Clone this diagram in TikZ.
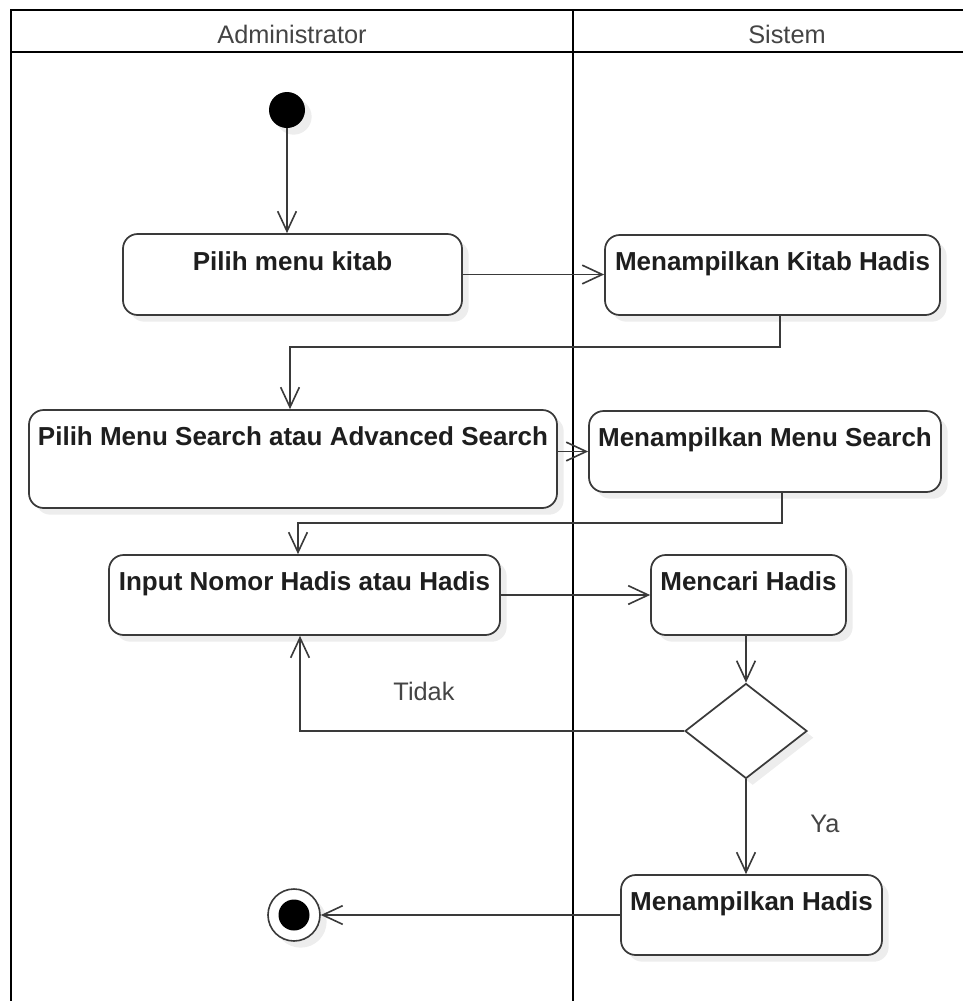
\documentclass[tikz,border=0pt]{standalone}
\usepackage{fontspec}
\setmainfont{Liberation Sans}
\usetikzlibrary{arrows.meta,shapes.geometric,shadows,calc}
\definecolor{ink}{HTML}{3A3A3A}
\definecolor{txt}{HTML}{1E1E1E}
\definecolor{lbl}{HTML}{444444}
\def\pxu{0.75pt}
\begin{document}
\begin{tikzpicture}[x=0.75pt,y=-0.75pt,
  frame/.style={line width=2.2pt,black},
  soft/.style={drop shadow={shadow xshift=5pt,shadow yshift=-5pt,fill=black,opacity=0.07}},
  act/.style={draw=ink,line width=1.3pt,fill=white,rounded corners=11pt,inner sep=0pt,soft},
  acttext/.style={anchor=base,text=txt,font=\fontsize{19.5}{22}\selectfont\bfseries},
  lane/.style={anchor=base,text=lbl,font=\fontsize{19}{22}\selectfont},
  flow/.style={draw=ink,line width=1.2pt,-{Straight Barb[length=15pt,width=14pt,line width=1.2pt]}},
  ]
\useasboundingbox (0,0) rectangle (963,1001);
\fill[white] (0,0) rectangle (963,1001);

% swimlane frame
\draw[frame] (11,1001) -- (11,10) -- (963,10);
\draw[frame] (11,52) -- (963,52);
\draw[frame] (573,10) -- (573,1001);
\node[lane] (laneA) at (292,43) {Administrator};
\node[lane] (laneS) at (787,43) {Sistem};

% initial node
\node[circle,fill=black,minimum size=36*\pxu,inner sep=0pt,soft] (start) at (287,110) {};

% activities
\node[act,minimum width=339*\pxu,minimum height=81*\pxu] (b1) at (292.5,274.5) {};
\node[acttext] (b1t) at (292.5,270) {Pilih menu kitab};
\node[act,minimum width=335*\pxu,minimum height=80*\pxu] (b2) at (772.5,275) {};
\node[acttext] (b2t) at (772.5,270) {Menampilkan Kitab Hadis};
\node[act,minimum width=528*\pxu,minimum height=98*\pxu] (b3) at (293,459) {};
\node[acttext] (b3t) at (293,445) {Pilih Menu Search atau Advanced Search};
\node[act,minimum width=352*\pxu,minimum height=81*\pxu] (b4) at (765,451.5) {};
\node[acttext] (b4t) at (765,446) {Menampilkan Menu Search};
\node[act,minimum width=391*\pxu,minimum height=80*\pxu] (b5) at (304.5,595) {};
\node[acttext] (b5t) at (304.5,590) {Input Nomor Hadis atau Hadis};
\node[act,minimum width=195*\pxu,minimum height=80*\pxu] (b6) at (748.5,595) {};
\node[acttext] (b6t) at (748.5,590) {Mencari Hadis};
\node[act,minimum width=261*\pxu,minimum height=80*\pxu] (b7) at (751.5,915) {};
\node[acttext] (b7t) at (751.5,910) {Menampilkan Hadis};

% decision
\node[diamond,draw=ink,line width=1.3pt,fill=white,inner sep=0pt,
      minimum width=122*\pxu,minimum height=95*\pxu,soft] (dec) at (746,731) {};

% final node
\node[circle,draw=ink,line width=1.2pt,fill=white,minimum size=52*\pxu,inner sep=0pt,soft] (endo) at (294,915) {};
\node[circle,fill=black,minimum size=31*\pxu,inner sep=0pt] (endi) at (294,915) {};

% bend points
\coordinate (k1) at (290,347);
\coordinate (k2) at (298,523);

% control flow
\draw[flow] (start) -- (start |- b1.north);
\draw[flow] (b1.east) -- (b1.east -| b2.west);
\draw[flow] ($(b2.south)+(7.5,0)$) |- (k1) -- (k1 |- b3.north);
\draw[flow] (b4.west -| b3.east) -- (b4.west);
\draw[flow] ($(b4.south)+(17,0)$) |- (k2) -- (k2 |- b5.north);
\draw[flow] (b5.east) -- (b6.west);
\draw[flow] (dec.north |- b6.south) -- (dec.north);
\draw[flow] (dec.west) -| ($(b5.south)+(-4.5,0)$);
\node[lane] (tidak) at (424,700) {Tidak};
\draw[flow] (dec.south) -- (dec.south |- b7.north);
\node[lane] (ya) at (825,832) {Ya};
\draw[flow] (b7.west) -- (endo.east);
\end{tikzpicture}
\end{document}
